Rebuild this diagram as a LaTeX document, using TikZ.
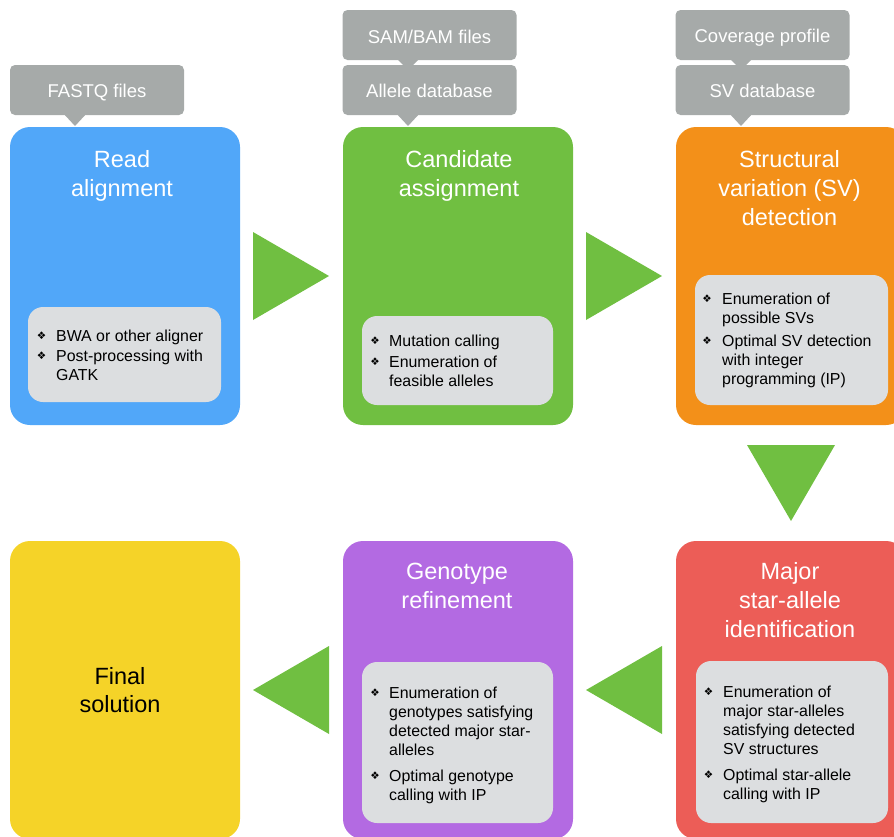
\documentclass[tikz,border=0pt]{standalone}
\usepackage{fontspec}
\setmainfont{Liberation Sans}
\newfontfamily\bulletfont{DejaVu Sans}
\definecolor{kblue}{HTML}{51A7F9}
\definecolor{kgreen}{HTML}{70BF41}
\definecolor{korange}{HTML}{F39019}
\definecolor{kyellow}{HTML}{F5D328}
\definecolor{kpurple}{HTML}{B36AE2}
\definecolor{kred}{HTML}{EC5D57}
\definecolor{kgray}{HTML}{A6AAA9}
\definecolor{klight}{HTML}{DCDEE0}
\begin{document}
\begin{tikzpicture}[x=1pt,y=-1pt,
  stage/.style={minimum width=230pt, minimum height=298pt, rounded corners=20pt, inner sep=0pt},
  panel/.style={fill=klight, rounded corners=15pt, inner sep=0pt},
  callout/.style={fill=kgray, rounded corners=5pt, minimum width=174pt, minimum height=50pt, inner sep=0pt},
  calltext/.style={text=white, anchor=base, inner sep=0pt, font=\fontsize{18.5}{22}\selectfont},
  title/.style={text=white, anchor=base, inner sep=0pt, font=\fontsize{23.5}{29}\selectfont},
  itemtext/.style={anchor=base west, inner sep=0pt, font=\fontsize{15.9}{19.3}\selectfont, text=black},
  bul/.style={inner sep=0pt, text=black, font=\bulletfont\fontsize{10.5}{10.5}\selectfont},
  tri/.style={fill=kgreen},
  pointer/.style={fill=kgray}
]
\useasboundingbox (0,0) rectangle (894,836);
\clip (0,0) rectangle (894,836);

% ---------- callouts ----------
\fill[pointer] (62,112) -- (88,112) -- (75,126) -- cycle;
\node[callout] (c1) at (97,90) {};
\node[calltext] (c1t) at (97,97.5) {FASTQ files};

\fill[pointer] (395,57) -- (421,57) -- (408,70) -- cycle;
\fill[pointer] (395,112) -- (421,112) -- (408,126) -- cycle;
\node[callout] (c2) at (429.5,35) {};
\node[calltext] (c2t) at (429.5,43) {SAM/BAM files};
\node[callout] (c3) at (429.5,90) {};
\node[calltext] (c3t) at (429.5,97.5) {Allele database};

\fill[pointer] (728,57) -- (754,57) -- (741,70) -- cycle;
\fill[pointer] (728,112) -- (754,112) -- (741,126) -- cycle;
\node[callout] (c4) at (762.5,35) {};
\node[calltext] (c4t) at (762.5,42.5) {Coverage profile};
\node[callout] (c5) at (762.5,90) {};
\node[calltext] (c5t) at (762.5,97.5) {SV database};

% ---------- stages ----------
\node[stage, fill=kblue]   (s1) at (125,276) {};
\node[stage, fill=kgreen]  (s2) at (458,276) {};
\node[stage, fill=korange] (s3) at (791,276) {};
\node[stage, fill=kyellow] (s6) at (125,690) {};
\node[stage, fill=kpurple] (s5) at (458,690) {};
\node[stage, fill=kred]    (s4) at (791,690) {};

% ---------- titles ----------
\node[title] (t1) at (122,167) {\parbox[t]{210pt}{\centering Read\\alignment}};
\node[title] (t2) at (459,167) {\parbox[t]{210pt}{\centering Candidate\\assignment}};
\node[title] (t3) at (789.5,167) {\parbox[t]{210pt}{\centering Structural\\variation (SV)\\detection}};
\node[title] (t4) at (790,579.5) {\parbox[t]{210pt}{\centering Major\\star-allele\\identification}};
\node[title] (t5) at (457,579.5) {\parbox[t]{210pt}{\centering Genotype\\refinement}};
\node[title, text=black, font=\fontsize{23.5}{28}\selectfont] (t6) at (120,684.5) {\parbox[t]{210pt}{\centering Final\\solution}};

% ---------- panels ----------
\node[panel, minimum width=193pt, minimum height=95pt]  (p1) at (124.5,354.5) {};
\node[panel, minimum width=191pt, minimum height=89pt]  (p2) at (457.5,360.5) {};
\node[panel, minimum width=193pt, minimum height=130pt] (p3) at (791.5,340) {};
\node[panel, minimum width=192pt, minimum height=162pt] (p4) at (792,742) {};
\node[panel, minimum width=191pt, minimum height=161pt] (p5) at (457.5,742.5) {};

% blue items
\node[bul] (b11) at (41.5,335.5) {❖};
\node[itemtext] (i11) at (56,341) {BWA or other aligner};
\node[bul] (b12) at (41.5,355.5) {❖};
\node[itemtext] (i12) at (56,361) {\parbox[t]{180pt}{\raggedright Post-processing with\\GATK}};

% green items
\node[bul] (b21) at (375,341) {❖};
\node[itemtext] (i21) at (389,346.5) {Mutation calling};
\node[bul] (b22) at (375,362) {❖};
\node[itemtext] (i22) at (389,367.5) {\parbox[t]{180pt}{\raggedright Enumeration of\\feasible alleles}};

% orange items
\node[bul] (b31) at (707,299) {❖};
\node[itemtext] (i31) at (722,304.5) {\parbox[t]{180pt}{\raggedright Enumeration of\\possible SVs}};
\node[bul] (b32) at (707,340.5) {❖};
\node[itemtext] (i32) at (722,346) {\parbox[t]{180pt}{\raggedright Optimal SV detection\\with integer\\programming (IP)}};

% red items
\node[bul] (b41) at (708.5,691.5) {❖};
\node[itemtext] (i41) at (723,697) {\parbox[t]{180pt}{\raggedright Enumeration of\\major star-alleles\\satisfying detected\\SV structures}};
\node[bul] (b42) at (708.5,775) {❖};
\node[itemtext] (i42) at (723,780.5) {\parbox[t]{180pt}{\raggedright Optimal star-allele\\calling with IP}};

% purple items
\node[bul] (b51) at (375,692.5) {❖};
\node[itemtext] (i51) at (389,698) {\parbox[t]{180pt}{\raggedright Enumeration of\\genotypes satisfying\\detected major star-\\alleles}};
\node[bul] (b52) at (375,776) {❖};
\node[itemtext] (i52) at (389,781.5) {\parbox[t]{180pt}{\raggedright Optimal genotype\\calling with IP}};

% ---------- flow triangles ----------
\fill[tri] (253,232) -- (253,320) -- (329,276) -- cycle;
\fill[tri] (586,232) -- (586,320) -- (662,276) -- cycle;
\fill[tri] (747,445) -- (835,445) -- (791,521) -- cycle;
\fill[tri] (662,646) -- (662,734) -- (586,690) -- cycle;
\fill[tri] (329,646) -- (329,734) -- (253,690) -- cycle;
\end{tikzpicture}
\end{document}
